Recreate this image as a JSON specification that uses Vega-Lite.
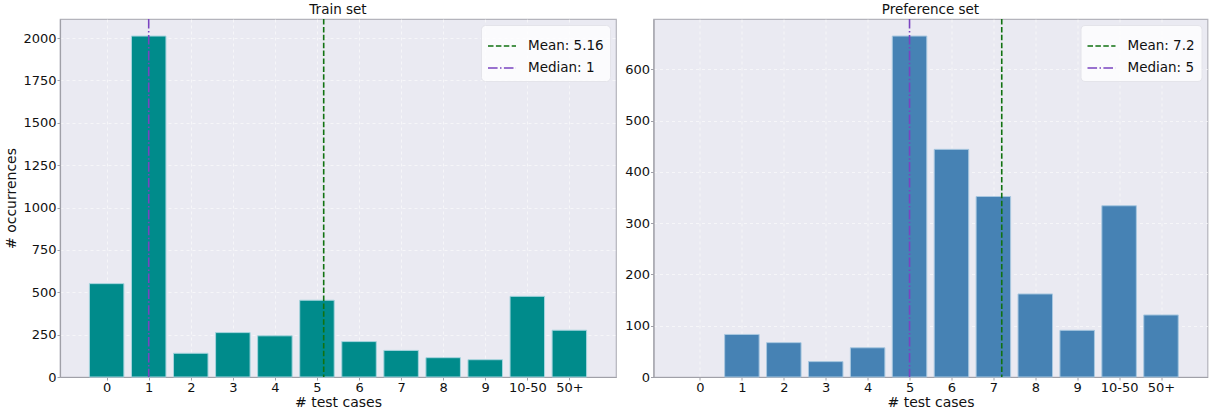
{
  "$schema": "https://vega.github.io/schema/vega-lite/v6.json",
  "padding": {"left": 4, "top": 2, "right": 5, "bottom": 0},
  "background": "white",
  "spacing": 6.5,
  "config": {
    "font": "DejaVu Sans",
    "view": {"fill": "#EAEAF2", "stroke": "#b4b4bc", "strokeWidth": 1.2},
    "axis": {
      "labelFontSize": 13,
      "titleFontSize": 14,
      "titleFontWeight": "normal",
      "labelColor": "#111",
      "titleColor": "#111",
      "domainColor": "#a0a0a8",
      "domainWidth": 1.2,
      "tickColor": "#a0a0a8",
      "tickSize": 3,
      "labelPadding": 1,
      "gridColor": "#ffffff",
      "gridDash": [3, 3],
      "gridWidth": 0.8,
      "gridOpacity": 0.7
    },
    "legend": {
      "orient": "top-right",
      "offset": 6,
      "title": null,
      "symbolType": "stroke",
      "symbolSize": 784,
      "symbolStrokeWidth": 1.6,
      "labelFontSize": 13.5,
      "labelColor": "#111",
      "labelOffset": 11,
      "rowPadding": -5,
      "padding": 6,
      "fillColor": "rgba(255,255,255,0.8)",
      "strokeColor": "#e4e4ea",
      "cornerRadius": 4
    },
    "title": {"fontSize": 13.5, "fontWeight": "normal", "color": "#111", "offset": 2}
  },
  "datasets": {
    "train": [
      {"cases": 0, "count": 551},
      {"cases": 1, "count": 2012},
      {"cases": 2, "count": 140},
      {"cases": 3, "count": 262},
      {"cases": 4, "count": 243},
      {"cases": 5, "count": 453},
      {"cases": 6, "count": 209},
      {"cases": 7, "count": 157},
      {"cases": 8, "count": 114},
      {"cases": 9, "count": 102},
      {"cases": 10, "count": 476},
      {"cases": 11, "count": 276}
    ],
    "trainStats": [
      {"stat": "Mean: 5.16", "value": 5.16},
      {"stat": "Median: 1", "value": 1}
    ],
    "pref": [
      {"cases": 0, "count": 0},
      {"cases": 1, "count": 83},
      {"cases": 2, "count": 67},
      {"cases": 3, "count": 30},
      {"cases": 4, "count": 57},
      {"cases": 5, "count": 665},
      {"cases": 6, "count": 444},
      {"cases": 7, "count": 352},
      {"cases": 8, "count": 162},
      {"cases": 9, "count": 91},
      {"cases": 10, "count": 334},
      {"cases": 11, "count": 121}
    ],
    "prefStats": [
      {"stat": "Mean: 7.2", "value": 7.2},
      {"stat": "Median: 5", "value": 5}
    ]
  },
  "resolve": {"scale": {"x": "independent", "y": "independent", "color": "independent", "strokeDash": "independent"}, "legend": {"color": "independent", "strokeDash": "independent"}},
  "hconcat": [
    {
      "width": 556,
      "height": 358,
      "title": "Train set",
      "layer": [
        {
          "data": {"name": "train"},
          "mark": {"type": "bar", "orient": "vertical", "width": 34.5, "color": "#008B8B", "stroke": "#a6d4de", "strokeWidth": 1},
          "encoding": {
            "x": {"field": "cases", "type": "quantitative", "scale": {"domain": [-0.99, 11.99], "nice": false, "zero": false},
              "axis": {"title": "# test cases", "values": [0,1,2,3,4,5,6,7,8,9,10,11], "labelExpr": "datum.value == 10 ? '10-50' : datum.value == 11 ? '50+' : datum.label", "titlePadding": 1}},
            "y": {"field": "count", "type": "quantitative", "scale": {"domain": [0, 2112.6], "nice": false},
              "axis": {"title": "# occurrences", "format": "d", "values": [0,250,500,750,1000,1250,1500,1750,2000], "titlePadding": 4}}
          }
        },
        {
          "data": {"name": "trainStats"},
          "mark": {"type": "rule", "strokeWidth": 1.6},
          "encoding": {
            "x": {"field": "value", "type": "quantitative"},
            "color": {"field": "stat", "type": "nominal", "scale": {"domain": ["Mean: 5.16", "Median: 1"], "range": ["#117211", "#7a44c0"]}},
            "strokeDash": {"field": "stat", "type": "nominal", "scale": {"domain": ["Mean: 5.16", "Median: 1"], "range": [[5.5, 2.4], [9.6, 2.4, 1.5, 2.4]]}}
          }
        }
      ]
    },
    {
      "width": 554,
      "height": 358,
      "title": "Preference set",
      "layer": [
        {
          "data": {"name": "pref"},
          "transform": [{"filter": "datum.count > 0"}],
          "mark": {"type": "bar", "orient": "vertical", "width": 34.5, "color": "#4682B4", "stroke": "#a9c8e0", "strokeWidth": 1},
          "encoding": {
            "x": {"field": "cases", "type": "quantitative", "scale": {"domain": [-0.99, 11.99], "nice": false, "zero": false},
              "axis": {"title": "# test cases", "values": [0,1,2,3,4,5,6,7,8,9,10,11], "labelExpr": "datum.value == 10 ? '10-50' : datum.value == 11 ? '50+' : datum.label", "titlePadding": 1}},
            "y": {"field": "count", "type": "quantitative", "scale": {"domain": [0, 698.25], "nice": false},
              "axis": {"title": null, "format": "d", "values": [0,100,200,300,400,500,600]}}
          }
        },
        {
          "data": {"name": "prefStats"},
          "mark": {"type": "rule", "strokeWidth": 1.6},
          "encoding": {
            "x": {"field": "value", "type": "quantitative"},
            "color": {"field": "stat", "type": "nominal", "scale": {"domain": ["Mean: 7.2", "Median: 5"], "range": ["#117211", "#7a44c0"]}},
            "strokeDash": {"field": "stat", "type": "nominal", "scale": {"domain": ["Mean: 7.2", "Median: 5"], "range": [[5.5, 2.4], [9.6, 2.4, 1.5, 2.4]]}}
          }
        }
      ]
    }
  ]
}
